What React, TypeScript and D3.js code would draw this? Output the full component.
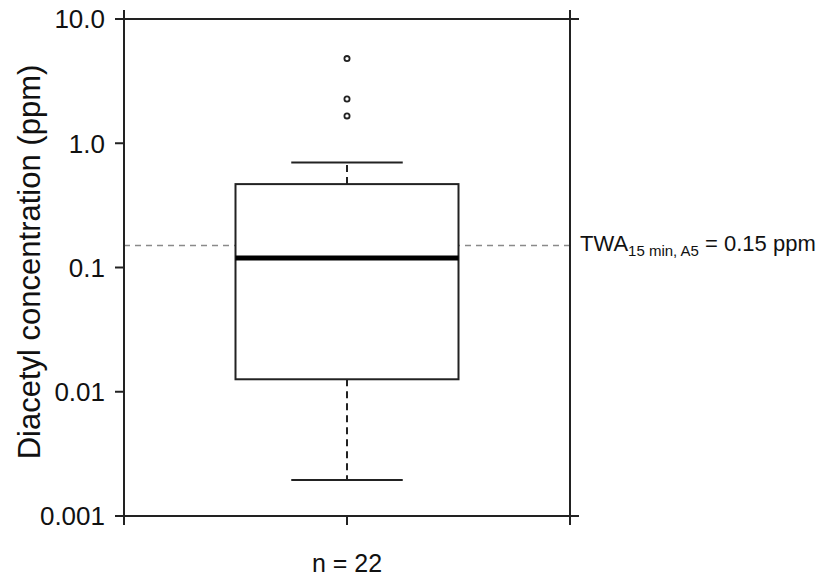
import React, {useEffect, useRef} from 'react'
import * as d3 from 'd3'

// box summary (ppm)
const groups = ['n = 22']
const whiskerLow = [0.00195]
const q1 = [0.0126]
const median = [0.119]
const q3 = [0.469]
const whiskerHigh = [0.70]
const outliers = [[4.8, 2.27, 1.66]]
const yTicks = [0.001, 0.01, 0.1, 1, 10]
const yTickLabels = ['0.001', '0.01', '0.1', '1.0', '10.0']
const threshold = 0.15

export default function App() {
  const ref = useRef<SVGSVGElement>(null)

  useEffect(() => {
    const svg = d3.select(ref.current)
    svg.selectAll('*').remove()
    const width = 816, height = 577
    const left = 124, right = 570, top = 19, bottom = 516
    const ext = 9
    const font = '"Liberation Sans", Arial, Helvetica, sans-serif'

    const y = d3.scaleLog().domain([0.001, 10]).range([bottom, top])
    const x = d3.scaleBand().domain(groups).range([left, right]).padding(0)

    svg.attr('width', width).attr('height', height)

    // threshold line
    svg.append('line')
      .attr('x1', left).attr('x2', right)
      .attr('y1', y(threshold)).attr('y2', y(threshold))
      .attr('stroke', '#8a8a8a').attr('stroke-width', 1.5)
      .attr('stroke-dasharray', '6,5')

    const frame = svg.append('g').attr('stroke', '#222').attr('stroke-width', 2)
    frame.append('line').attr('x1', left).attr('x2', left).attr('y1', top - ext).attr('y2', bottom + ext)
    frame.append('line').attr('x1', right).attr('x2', right).attr('y1', top - ext).attr('y2', bottom + ext)
    frame.append('line').attr('x1', left - ext).attr('x2', right + ext).attr('y1', top).attr('y2', top)
    frame.append('line').attr('x1', left - ext).attr('x2', right + ext).attr('y1', bottom).attr('y2', bottom)

    // y ticks
    const yAxis = svg.append('g')
    yAxis.selectAll('line').data(yTicks).join('line')
      .attr('x1', left - ext).attr('x2', left)
      .attr('y1', d => y(d)).attr('y2', d => y(d))
      .attr('stroke', '#222').attr('stroke-width', 2)
    yAxis.selectAll('text').data(yTicks).join('text')
      .attr('x', 105).attr('y', d => y(d)).attr('dy', '0.36em')
      .attr('text-anchor', 'end')
      .attr('font-family', font).attr('font-size', 26).attr('fill', '#111')
      .text((d, i) => yTickLabels[i])

    // x tick + label
    groups.forEach(g => {
      const cx = x(g)! + x.bandwidth() / 2
      svg.append('line').attr('x1', cx).attr('x2', cx).attr('y1', bottom).attr('y2', bottom + ext)
        .attr('stroke', '#222').attr('stroke-width', 2)
      svg.append('text').attr('x', cx).attr('y', 572).attr('text-anchor', 'middle')
        .attr('font-family', font).attr('font-size', 25).attr('fill', '#111').text(g)
    })

    // boxes
    groups.forEach((g, i) => {
      const cx = x(g)! + x.bandwidth() / 2
      const bw = x.bandwidth() * 0.5
      const cw = x.bandwidth() * 0.25
      const b = svg.append('g').attr('stroke', '#222').attr('fill', 'none')
      b.append('line').attr('x1', cx).attr('x2', cx).attr('y1', y(q3[i])).attr('y2', y(whiskerHigh[i]))
        .attr('stroke-width', 2).attr('stroke-dasharray', '7,5')
      b.append('line').attr('x1', cx).attr('x2', cx).attr('y1', y(q1[i])).attr('y2', y(whiskerLow[i]))
        .attr('stroke-width', 2).attr('stroke-dasharray', '7,5')
      b.append('line').attr('x1', cx - cw / 2).attr('x2', cx + cw / 2)
        .attr('y1', y(whiskerHigh[i])).attr('y2', y(whiskerHigh[i])).attr('stroke-width', 2)
      b.append('line').attr('x1', cx - cw / 2).attr('x2', cx + cw / 2)
        .attr('y1', y(whiskerLow[i])).attr('y2', y(whiskerLow[i])).attr('stroke-width', 2)
      b.append('rect').attr('x', cx - bw / 2).attr('width', bw)
        .attr('y', y(q3[i])).attr('height', y(q1[i]) - y(q3[i]))
        .attr('fill', '#fff').attr('stroke-width', 2)
      b.append('line').attr('x1', cx - bw / 2).attr('x2', cx + bw / 2)
        .attr('y1', y(median[i])).attr('y2', y(median[i]))
        .attr('stroke', '#000').attr('stroke-width', 5)
      b.selectAll('circle').data(outliers[i]).join('circle')
        .attr('cx', cx).attr('cy', d => y(d)).attr('r', 2.6)
        .attr('stroke-width', 1.8)
    })

    // threshold label
    const t = svg.append('text').attr('x', 580).attr('y', 251)
      .attr('font-family', font).attr('font-size', 22).attr('fill', '#111')
    t.append('tspan').text('TWA')
    t.append('tspan').attr('font-size', 15).attr('dy', 5).text('15 min, A5')
    t.append('tspan').attr('dy', -5).text(' = 0.15 ppm')

    // y axis title
    svg.append('text')
      .attr('transform', `translate(40,262) rotate(-90)`)
      .attr('text-anchor', 'middle')
      .attr('font-family', font).attr('font-size', 31).attr('fill', '#111')
      .text('Diacetyl concentration (ppm)')
  }, [])

  return (
    <div style={{position: 'absolute', left: 0, top: 0}}>
      <svg ref={ref} style={{display: 'block'}}></svg>
    </div>
  )
}
